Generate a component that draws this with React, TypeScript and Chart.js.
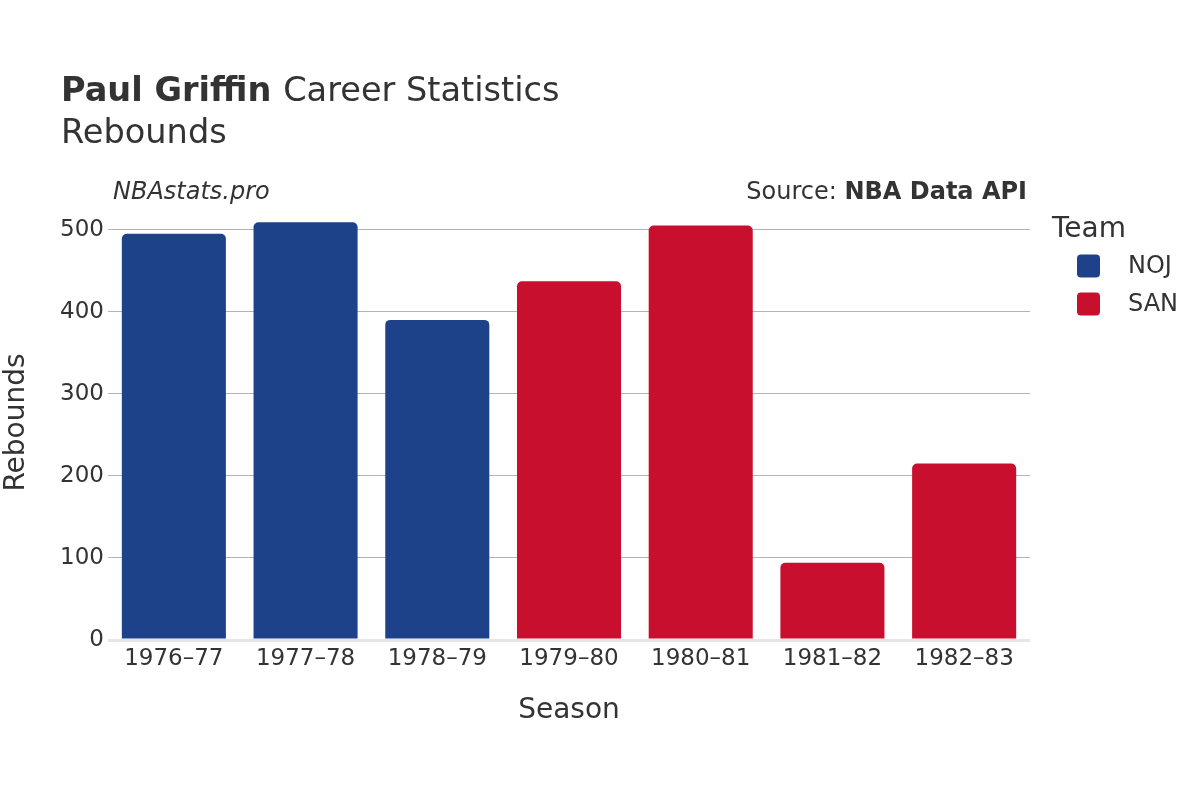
import React, { useEffect, useRef } from "react";
import { Chart, registerables } from "chart.js";

Chart.register(...registerables);

const seasons = ["1976–77", "1977–78", "1978–79", "1979–80", "1980–81", "1981–82", "1982–83"];
const seasonTeams = ["NOJ", "NOJ", "NOJ", "SAN", "SAN", "SAN", "SAN"];
const rebounds = [495, 509, 390, 437, 505, 94, 215];
const legendTeams = ["NOJ", "SAN"];
const teamColors: Record<string, string> = { NOJ: "#1d428a", SAN: "#c8102e" };
const yTicks = [0, 100, 200, 300, 400, 500];

const FONT = "'DejaVu Sans', sans-serif";
const TEXT = "#333333";

function roundRect(ctx: CanvasRenderingContext2D, x: number, y: number, w: number, h: number, r: number) {
  ctx.beginPath();
  ctx.moveTo(x + r, y);
  ctx.lineTo(x + w - r, y);
  ctx.quadraticCurveTo(x + w, y, x + w, y + r);
  ctx.lineTo(x + w, y + h - r);
  ctx.quadraticCurveTo(x + w, y + h, x + w - r, y + h);
  ctx.lineTo(x + r, y + h);
  ctx.quadraticCurveTo(x, y + h, x, y + h - r);
  ctx.lineTo(x, y + r);
  ctx.quadraticCurveTo(x, y, x + r, y);
  ctx.closePath();
}

const textPlugin = {
  id: "texts",
  afterDraw(chart: any) {
    const ctx = chart.ctx as CanvasRenderingContext2D;
    ctx.save();
    ctx.fillStyle = TEXT;
    ctx.textBaseline = "alphabetic";
    ctx.textAlign = "left";
    // Title
    ctx.font = `bold 33.6px ${FONT}`;
    ctx.fillText("Paul Griffin", 61, 101);
    const w1 = ctx.measureText("Paul Griffin ").width;
    ctx.font = `33.6px ${FONT}`;
    ctx.fillText("Career Statistics", 61 + w1, 101);
    ctx.fillText("Rebounds", 61, 143);
    // Watermark
    ctx.font = `italic 24px ${FONT}`;
    ctx.fillText("NBAstats.pro", 113, 199);
    // Source
    ctx.textAlign = "right";
    ctx.font = `bold 24px ${FONT}`;
    ctx.fillText("NBA Data API", 1027, 199);
    const wb = ctx.measureText("NBA Data API").width;
    ctx.font = `24px ${FONT}`;
    ctx.fillText("Source: ", 1027 - wb, 199);
    // Legend
    ctx.textAlign = "left";
    ctx.font = `28px ${FONT}`;
    ctx.fillText("Team", 1052, 237);
    ctx.font = `24px ${FONT}`;
    ctx.textBaseline = "middle";
    legendTeams.forEach((t, i) => {
      const cy = 266 + i * 38;
      ctx.fillStyle = teamColors[t];
      roundRect(ctx, 1077, cy - 11.5, 23, 23, 4);
      ctx.fill();
      ctx.fillStyle = TEXT;
      ctx.fillText(t, 1128, cy + 1);
    });
    ctx.restore();
  },
};

export default function App() {
  const ref = useRef<HTMLCanvasElement>(null);
  useEffect(() => {
    if (!ref.current) return;
    const chart = new Chart(ref.current, {
      type: "bar",
      data: {
        labels: seasons,
        datasets: [
          {
            label: "Rebounds",
            data: rebounds,
            backgroundColor: seasonTeams.map((t) => teamColors[t]),
            borderRadius: { topLeft: 5, topRight: 5, bottomLeft: 0, bottomRight: 0 },
            borderSkipped: false,
            categoryPercentage: 1,
            barPercentage: 0.79,
          },
        ],
      },
      options: {
        animation: false,
        responsive: false,
        maintainAspectRatio: false,
        layout: { padding: { top: 205, right: 170, bottom: 0, left: 0 } },
        plugins: { legend: { display: false }, tooltip: { enabled: false } },
        scales: {
          x: {
            afterFit: (s: any) => {
              s.height = 160;
            },
            grid: { display: false, drawTicks: false },
            border: { display: false },
            ticks: { color: TEXT, font: { family: FONT, size: 23 }, padding: 5, maxRotation: 0 },
            title: {
              display: true,
              text: "Season",
              color: TEXT,
              font: { family: FONT, size: 28 },
              padding: { top: 0, bottom: 72 },
            },
          },
          y: {
            min: 0,
            max: 530,
            afterFit: (s: any) => {
              s.width = 108;
            },
            afterBuildTicks: (s: any) => {
              s.ticks = yTicks.map((v) => ({ value: v }));
            },
            border: { display: false },
            grid: {
              drawTicks: false,
              color: (c: any) => (c.tick && c.tick.value === 0 ? "#e6e6e6" : "#b4b4b4"),
              lineWidth: (c: any) => (c.tick && c.tick.value === 0 ? 3 : 1),
            },
            ticks: { color: TEXT, font: { family: FONT, size: 23 }, padding: 4 },
            title: {
              display: true,
              text: "Rebounds",
              color: TEXT,
              font: { family: FONT, size: 28 },
              padding: { top: 0, bottom: 0 },
            },
          },
        },
      },
      plugins: [textPlugin],
    });
    return () => chart.destroy();
  }, []);
  return (
    <div style={{ position: "fixed", left: 0, top: 0, width: 1200, height: 800, background: "#fff" }}>
      <canvas ref={ref} width={1200} height={800} style={{ width: 1200, height: 800 }} />
    </div>
  );
}
